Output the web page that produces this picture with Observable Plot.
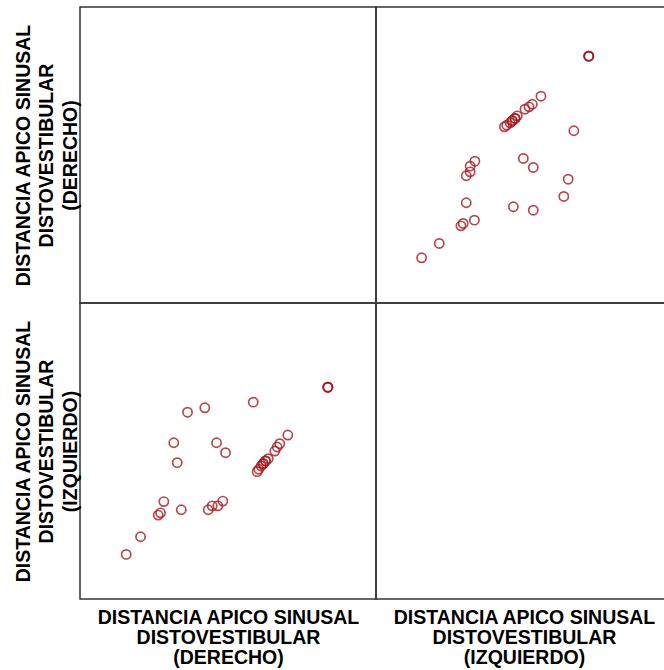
<!DOCTYPE html>
<html><head><meta charset="utf-8">
<script src="https://cdn.jsdelivr.net/npm/d3@7"></script>
<script src="https://cdn.jsdelivr.net/npm/@observablehq/plot@0.6"></script>
<style>
html,body{margin:0;padding:0;background:#fff;overflow:hidden;width:664px;height:670px}
#chart{width:664px;height:670px;overflow:hidden}
#chart svg{display:block;max-width:none !important;width:672px !important;height:670px !important}
</style></head><body><div id="chart"></div>
<script>
const variables = [
  "DISTANCIA APICO SINUSAL\nDISTOVESTIBULAR\n(DERECHO)",
  "DISTANCIA APICO SINUSAL\nDISTOVESTIBULAR\n(IZQUIERDO)"
];
const derecho = [20.89, 20.89, 20.89, 14.59, 10.50, 9.04, 7.88, 11.49, 12.25, 8.17,
  17.51, 16.83, 16.61, 16.41, 15.85, 15.63, 15.63, 15.43, 15.43, 15.26, 15.06, 14.92,
  7.04, 6.76, 6.56, 8.51, 10.79, 11.12, 11.60, 12.02, 5.07, 3.86];
const izquierdo = [17.93, 17.93, 17.93, 16.67, 16.19, 15.82, 13.24, 13.24, 12.40, 11.56,
  13.89, 13.16, 12.88, 12.54, 11.89, 11.70, 11.70, 11.47, 11.47, 11.28, 11.00, 10.80,
  8.27, 7.32, 7.13, 7.58, 7.58, 7.91, 7.91, 8.31, 5.30, 3.81];

const points = [];
derecho.forEach((d, i) => {
  points.push({col: variables[0], row: variables[1], x: d, y: izquierdo[i]});
  points.push({col: variables[1], row: variables[0], x: izquierdo[i], y: d});
});
const cells = [];
for (const r of variables) for (const c of variables) cells.push({row: r, col: c});

const chart = Plot.plot({
  width: 672, height: 670,
  marginTop: 6, marginLeft: 80, marginRight: 0, marginBottom: 71,
  style: {fontFamily: "'Liberation Sans', Arial, sans-serif", background: "white", color: "black", maxWidth: "none"},
  x: {domain: [0, 25], axis: null},
  y: {domain: [0, 25], axis: null},
  fx: {domain: variables, padding: 0, label: null},
  fy: {domain: variables, padding: 0, label: null},
  marks: [
    Plot.rect(cells, {fx: "col", fy: "row", fill: "none", stroke: "#333", strokeWidth: 1.5}),
    Plot.dot(points, {fx: "col", fy: "row", x: "x", y: "y", r: 4.6, stroke: "#a8191f", strokeWidth: 1.7, strokeOpacity: 0.8}),
    Plot.axisFx({anchor: "bottom", label: null, tickSize: 0, tickPadding: 10, fontSize: 19.5, fontWeight: "bold", lineHeight: 1.03, fill: "black"}),
    Plot.axisFy({anchor: "left", label: null, tickSize: 0, tickRotate: -90, tickPadding: 4, fontSize: 19.5, fontWeight: "bold", lineHeight: 1.2, fill: "black"})
  ]
});
document.getElementById("chart").appendChild(chart);
</script></body></html>
